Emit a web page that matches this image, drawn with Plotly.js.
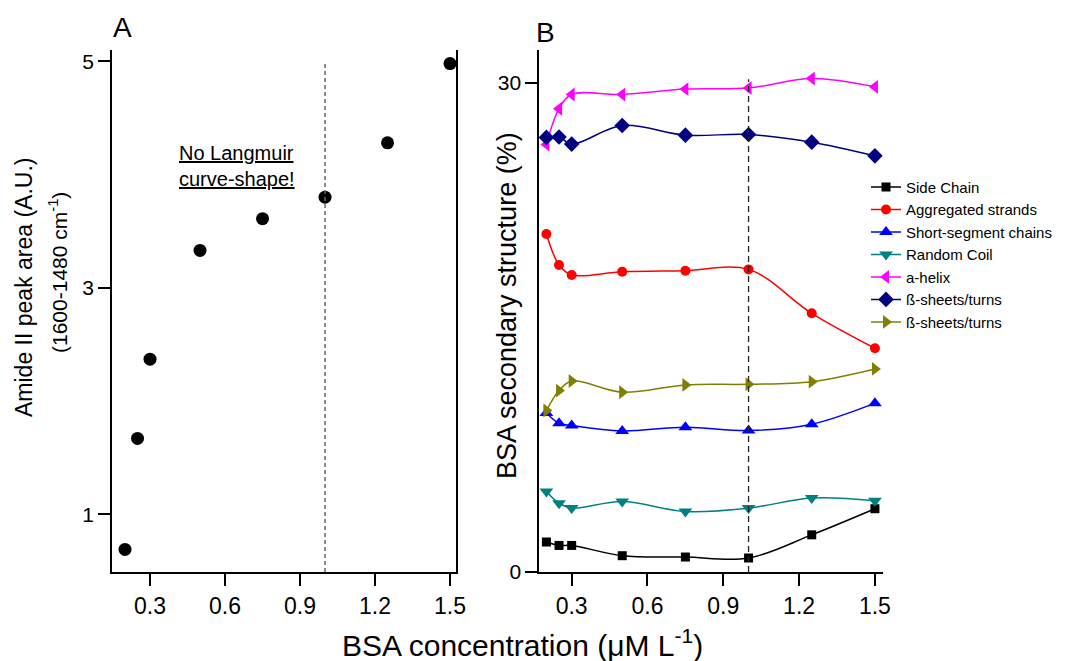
<!DOCTYPE html>
<html>
<head>
<meta charset="utf-8">
<script src="https://cdn.plot.ly/plotly-3.0.1.min.js"></script>
<style>html,body{margin:0;padding:0;background:#fff}#chart{width:1072px;height:661px}</style>
</head>
<body>
<div id="chart"></div>
<script>
// ---- data ----
const conc = [0.2, 0.25, 0.3, 0.5, 0.75, 1.0, 1.25, 1.5];
const amideArea = [0.69, 1.67, 2.37, 3.33, 3.61, 3.80, 4.28, 4.98];

const sideChain   = [1.84, 1.63, 1.63, 1.00, 0.92, 0.86, 2.28, 3.88];
const aggregated  = [20.72, 18.82, 18.21, 18.41, 18.47, 18.55, 15.86, 13.72];
const shortSeg    = [9.75, 9.12, 8.98, 8.65, 8.88, 8.67, 9.06, 10.35];
const randomCoil  = [4.94, 4.22, 3.92, 4.32, 3.71, 3.92, 4.53, 4.37];
const aHelix      = [26.2, 28.4, 29.27, 29.27, 29.6, 29.67, 30.25, 29.74];
const betaSheets1 = [26.64, 26.67, 26.23, 27.37, 26.78, 26.82, 26.35, 25.51];
const betaSheets2 = [9.9, 11.12, 11.71, 11.02, 11.47, 11.51, 11.67, 12.45];

const seriesNames = ["Side Chain", "Aggregated strands", "Short-segment chains", "Random Coil", "a-helix", "ß-sheets/turns", "ß-sheets/turns"];
const xTickVals = [0.3, 0.6, 0.9, 1.2, 1.5];
const xTickText = ["0.3", "0.6", "0.9", "1.2", "1.5"];
const yTickValsA = [1, 3, 5];
const yTickValsB = [0, 30];
const thresholdConc = 1.0;

// ---- styles ----
const FONT = "Liberation Sans, Arial, Helvetica, sans-serif";
const seriesData = [sideChain, aggregated, shortSeg, randomCoil, aHelix, betaSheets1, betaSheets2];
const seriesStyle = [
  {color: "#000000", symbol: "square", size: 9},
  {color: "#ff0000", symbol: "circle", size: 10},
  {color: "#0000ff", symbol: "triangle-up", size: 12},
  {color: "#008080", symbol: "triangle-down", size: 12},
  {color: "#ff00ff", symbol: "triangle-left", size: 12},
  {color: "#000080", symbol: "diamond", size: 12},
  {color: "#808000", symbol: "triangle-right", size: 12}
];

const traces = [{
  x: conc, y: amideArea, type: "scatter", mode: "markers",
  marker: {color: "#000", size: 13, symbol: "circle"},
  xaxis: "x", yaxis: "y", showlegend: false, cliponaxis: false
}];
seriesData.forEach((vals, i) => {
  const s = seriesStyle[i];
  traces.push({
    x: conc, y: vals, type: "scatter", mode: "lines+markers", name: seriesNames[i],
    line: {color: s.color, width: 1.5, shape: "spline", smoothing: 1},
    marker: {color: s.color, symbol: s.symbol, size: s.size},
    xaxis: "x2", yaxis: "y2", cliponaxis: false
  });
});

const axisCommon = {
  showline: true, linecolor: "#000", linewidth: 2,
  ticks: "outside", ticklen: 12, tickwidth: 2, tickcolor: "#000",
  showgrid: false, zeroline: false, fixedrange: true
};

const layout = {
  width: 1072, height: 661,
  margin: {l: 0, r: 0, t: 0, b: 0},
  paper_bgcolor: "#fff", plot_bgcolor: "#fff",
  font: {family: FONT, color: "#000"},
  showlegend: true,
  legend: {x: 866/1072, y: 0.7418, xanchor: "left", yanchor: "top", font: {size: 15, family: FONT}, tracegroupgap: 0, bgcolor: "rgba(0,0,0,0)"},
  xaxis: Object.assign({}, axisCommon, {
    domain: [0.1045, 0.4254], range: [0.148, 1.524], anchor: "y",
    tickvals: xTickVals, ticktext: xTickText, tickfont: {size: 23}
  }),
  yaxis: Object.assign({}, axisCommon, {
    domain: [0.1346, 0.9244], range: [0.49, 5.10], anchor: "x",
    tickvals: yTickValsA, tickfont: {size: 21}, mirror: true
  }),
  xaxis2: Object.assign({}, axisCommon, {
    domain: [0.5031, 0.8237], range: [0.172, 1.532], anchor: "y2",
    tickvals: xTickVals, ticktext: xTickText, tickfont: {size: 23}
  }),
  yaxis2: Object.assign({}, axisCommon, {
    domain: [0.1346, 0.9244], range: [0, 32], anchor: "x2",
    tickvals: yTickValsB, tickfont: {size: 21}
  }),
  shapes: [
    {type: "line", xref: "x", yref: "y", x0: thresholdConc, x1: thresholdConc, y0: 0.49, y1: 5.0,
     line: {color: "#666", width: 1.5, dash: "4px,3px"}},
    {type: "line", xref: "x2", yref: "y2", x0: thresholdConc, x1: thresholdConc, y0: 0, y1: 30.2,
     line: {color: "#222", width: 1.3, dash: "6px,4px"}}
  ],
  annotations: [
    {text: "A", xref: "paper", yref: "paper", x: 122.5/1072, y: 1 - 28/661, showarrow: false, font: {size: 28}, xanchor: "center", yanchor: "middle"},
    {text: "B", xref: "paper", yref: "paper", x: 545/1072, y: 1 - 32/661, showarrow: false, font: {size: 28}, xanchor: "center", yanchor: "middle"},
    {text: "<u>No Langmuir</u><br><u>curve-shape!</u>", xref: "paper", yref: "paper", x: 237/1072, y: 1 - 166/661, showarrow: false, font: {size: 20}, xanchor: "center", yanchor: "middle", align: "left"},
    {text: "Amide II peak area (A.U.)", xref: "paper", yref: "paper", x: 24/1072, y: 1 - 287/661, showarrow: false, textangle: -90, font: {size: 23}, xanchor: "center", yanchor: "middle"},
    {text: "(1600-1480 cm<sup>-1</sup>)", xref: "paper", yref: "paper", x: 58/1072, y: 1 - 272/661, showarrow: false, textangle: -90, font: {size: 21}, xanchor: "center", yanchor: "middle"},
    {text: "BSA secondary structure (%)", xref: "paper", yref: "paper", x: 507/1072, y: 1 - 306/661, showarrow: false, textangle: -90, font: {size: 27}, xanchor: "center", yanchor: "middle"},
    {text: "BSA concentration (\u03bcM L<sup>-1</sup>)", xref: "paper", yref: "paper", x: 522/1072, y: 1 - 643/661, showarrow: false, font: {size: 30}, xanchor: "center", yanchor: "middle"}
  ]
};

Plotly.newPlot("chart", traces, layout, {displayModeBar: false, staticPlot: true});
</script>
</body>
</html>
